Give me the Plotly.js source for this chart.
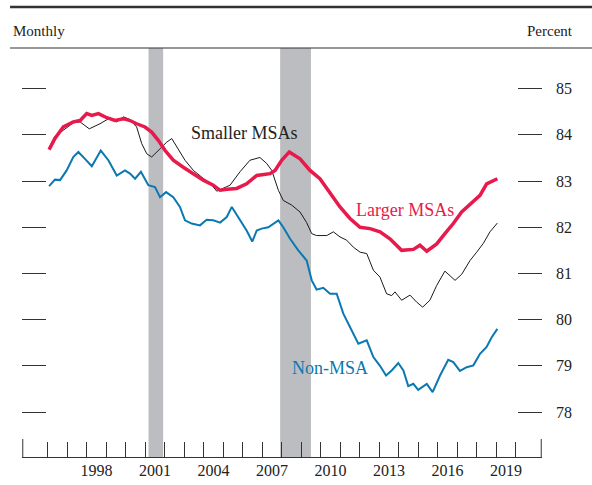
<!DOCTYPE html>
<html>
<head>
<meta charset="utf-8">
<script src="https://cdn.plot.ly/plotly-3.0.1.min.js"></script>
<style>html,body{margin:0;padding:0;background:#fff;}#chart{width:592px;height:485px;}</style>
</head>
<body>
<div id="chart"></div>
<script>
// Decimal-year positions and values (percent)
var largerX = [1996.07,1996.37,1996.8,1997.31,1997.66,1998.0,1998.26,1998.6,1999.03,1999.45,1999.88,2000.22,2000.56,2000.99,2001.33,2001.67,2002.02,2002.44,2002.95,2003.47,2003.98,2004.49,2004.84,2005.2,2005.69,2006.2,2006.72,2007.4,2007.66,2008.0,2008.39,2008.94,2009.45,2009.96,2010.48,2010.99,2011.5,2012.02,2012.53,2013.04,2013.55,2014.15,2014.75,2015.09,2015.44,2015.95,2016.37,2016.8,2017.23,2017.66,2018.17,2018.51,2018.77,2019.06];
var largerY = [83.68,83.92,84.17,84.28,84.31,84.46,84.42,84.46,84.37,84.31,84.35,84.31,84.24,84.17,84.06,83.88,83.66,83.45,83.30,83.16,83.02,82.91,82.80,82.82,82.84,82.94,83.12,83.16,83.23,83.45,83.63,83.48,83.23,83.05,82.73,82.44,82.19,82.0,81.97,81.9,81.75,81.5,81.52,81.61,81.48,81.64,81.86,82.08,82.33,82.49,82.69,82.94,83.0,83.05];

var smallerX = [1996.07,1996.37,1996.8,1997.31,1997.66,1998.13,1998.68,1999.2,1999.54,1999.88,2000.22,2000.56,2000.82,2001.08,2001.33,2001.67,2002.1,2002.36,2002.62,2003.04,2003.47,2003.98,2004.41,2004.67,2005.0,2005.35,2005.86,2006.37,2006.88,2007.23,2007.49,2007.83,2008.08,2008.51,2008.94,2009.28,2009.54,2009.79,2010.31,2010.65,2010.99,2011.33,2011.67,2012.02,2012.36,2012.7,2013.04,2013.38,2013.64,2013.81,2014.15,2014.58,2014.92,2015.23,2015.6,2015.95,2016.37,2016.89,2017.23,2017.66,2018.0,2018.34,2018.68,2019.06];
var smallerY = [83.72,83.97,84.1,84.26,84.28,84.13,84.24,84.37,84.28,84.39,84.33,84.17,83.81,83.59,83.52,83.66,83.84,83.92,83.74,83.45,83.23,83.05,82.91,82.78,82.84,82.91,83.2,83.45,83.51,83.38,83.23,82.8,82.58,82.48,82.33,82.1,81.86,81.82,81.82,81.9,81.79,81.72,81.57,81.46,81.43,81.07,80.92,80.56,80.52,80.6,80.42,80.53,80.38,80.27,80.42,80.74,81.05,80.85,80.98,81.28,81.46,81.65,81.9,82.09];

var nonX = [1996.07,1996.37,1996.63,1996.97,1997.31,1997.57,1997.91,1998.26,1998.72,1999.11,1999.54,1999.96,2000.22,2000.48,2000.78,2001.16,2001.5,2001.76,2002.07,2002.44,2002.78,2003.04,2003.38,2003.81,2004.15,2004.49,2004.84,2005.18,2005.44,2005.86,2006.2,2006.49,2006.72,2006.97,2007.31,2007.83,2008.08,2008.43,2008.85,2009.28,2009.54,2009.79,2010.13,2010.48,2010.82,2011.16,2011.59,2011.93,2012.36,2012.7,2013.04,2013.35,2013.64,2013.98,2014.24,2014.49,2014.75,2015.0,2015.44,2015.74,2016.12,2016.54,2016.8,2017.14,2017.49,2017.83,2018.17,2018.51,2018.77,2019.06];
var nonY = [82.89,83.03,83.02,83.23,83.52,83.63,83.48,83.32,83.66,83.45,83.12,83.23,83.16,83.05,83.2,82.91,82.87,82.65,82.76,82.65,82.44,82.15,82.08,82.04,82.16,82.15,82.1,82.22,82.44,82.15,81.93,81.69,81.93,81.97,82.0,82.15,82.0,81.75,81.5,81.28,80.85,80.65,80.69,80.56,80.56,80.13,79.77,79.48,79.55,79.19,79.0,78.79,78.9,79.06,78.9,78.56,78.61,78.48,78.61,78.43,78.79,79.13,79.08,78.89,78.97,79.01,79.26,79.41,79.62,79.8];

// Recessions (decimal years)
var recessionStart = [2001.17, 2007.92];
var recessionEnd   = [2001.92, 2009.5];

// Axis ticks
var yearTicks = [];
for (var yr = 1996; yr <= 2020; yr++) yearTicks.push(yr);
var yearLabels = ["1998","2001","2004","2007","2010","2013","2016","2019"];
var yTicks = [78,79,80,81,82,83,84,85];

var RED = "#E8194B", BLUE = "#0A78B2", BLACK = "#1a1a1a";
var FONT = "Liberation Serif, Times New Roman, serif";
var xRange = [1994.68, 2021.35];

var traces = [
  {x: smallerX, y: smallerY, type: "scatter", mode: "lines", line: {color: BLACK, width: 1}, hoverinfo: "skip"},
  {x: nonX, y: nonY, type: "scatter", mode: "lines", line: {color: BLUE, width: 2}, hoverinfo: "skip"},
  {x: largerX, y: largerY, type: "scatter", mode: "lines", line: {color: RED, width: 3.5}, hoverinfo: "skip"}
];

var shapes = [];
for (var i = 0; i < recessionStart.length; i++) {
  shapes.push({type: "rect", xref: "x", yref: "paper", x0: recessionStart[i], x1: recessionEnd[i], y0: 0, y1: 1,
    fillcolor: "#BCBDC0", line: {width: 0}, layer: "below"});
}
// header rules
shapes.push({type: "line", xref: "paper", yref: "paper", x0: -0.023, x1: 1.1, y0: 1.1, y1: 1.1, line: {color: "#333", width: 2.5}});
shapes.push({type: "line", xref: "paper", yref: "paper", x0: -0.023, x1: 1.1, y0: 1.0, y1: 1.0, line: {color: "#333", width: 1.2}});
// tall end ticks on x axis
shapes.push({type: "line", xref: "paper", yref: "paper", x0: 0.0015, x1: 0.0015, y0: 0, y1: 0.044, line: {color: "#333", width: 1}});
shapes.push({type: "line", xref: "paper", yref: "paper", x0: 0.9985, x1: 0.9985, y0: 0, y1: 0.044, line: {color: "#333", width: 1}});

var layout = {
  width: 592, height: 485,
  margin: {l: 22, r: 50, t: 48, b: 28, pad: 0},
  paper_bgcolor: "#fff", plot_bgcolor: "rgba(0,0,0,0)",
  showlegend: false,
  font: {family: FONT, color: "#222", size: 16},
  xaxis: {
    range: xRange, tickmode: "array", tickvals: yearTicks, ticktext: yearTicks.map(function(){return "";}),
    ticks: "inside", ticklen: 15, tickcolor: "#333", tickwidth: 1,
    showline: true, linecolor: "#333", linewidth: 1, showgrid: false, zeroline: false, fixedrange: true
  },
  xaxis2: {
    overlaying: "x", anchor: "y", side: "bottom", range: xRange, tickmode: "array",
    tickvals: yearLabels.map(function(s){return parseInt(s,10) + 0.5;}), ticktext: yearLabels,
    ticks: "", showline: false, showgrid: false, zeroline: false, tickfont: {family: FONT, size: 16, color: "#222"},
    ticklabelstandoff: 2
  },
  yaxis: {
    range: [77.026, 85.88], side: "right", tickmode: "array", tickvals: yTicks,
    ticks: "inside", ticklen: 24, tickcolor: "#333", tickwidth: 1, mirror: "ticks",
    showline: false, showgrid: false, zeroline: false, ticklabelstandoff: 13,
    tickfont: {family: FONT, size: 16, color: "#222"}, fixedrange: true
  },
  shapes: shapes,
  annotations: [
    {xref: "paper", yref: "paper", x: -0.021, y: 1.041, xanchor: "left", yanchor: "middle", text: "Monthly", showarrow: false, font: {family: FONT, size: 15, color: "#222"}},
    {xref: "paper", yref: "paper", x: 1.063, y: 1.041, xanchor: "right", yanchor: "middle", text: "Percent", showarrow: false, font: {family: FONT, size: 15, color: "#222"}},
    {xref: "x", yref: "y", x: 2006.07, y: 84.03, text: "Smaller MSAs", showarrow: false, font: {family: FONT, size: 18, color: "#222"}},
    {xref: "x", yref: "y", x: 2014.3, y: 82.38, text: "Larger MSAs", showarrow: false, font: {family: FONT, size: 18, color: RED}},
    {xref: "x", yref: "y", x: 2010.47, y: 78.96, text: "Non-MSA", showarrow: false, font: {family: FONT, size: 18, color: BLUE}}
  ]
};

// an invisible trace on xaxis2 so the label axis is drawn
traces.push({x: [xRange[0]], y: [80], xaxis: "x2", yaxis: "y", type: "scatter", mode: "markers", marker: {opacity: 0}, hoverinfo: "skip"});

Plotly.newPlot("chart", traces, layout, {displayModeBar: false, staticPlot: true});
</script>
</body>
</html>
